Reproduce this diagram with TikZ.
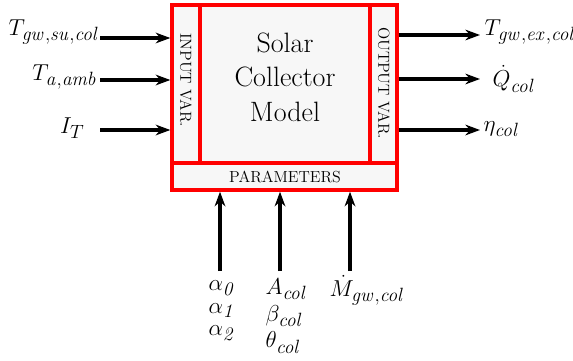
\documentclass[tikz,border=0pt]{standalone}
\usepackage{xcolor}
\usetikzlibrary{positioning,arrows.meta,fit}

\definecolor{panelred}{HTML}{FF0000}
\definecolor{panelfill}{HTML}{F7F7F7}
\newcommand{\vsub}[1]{\mathit{#1}}

\begin{document}
\begin{tikzpicture}[x=0.75pt,y=-0.75pt,>={Stealth[length=11pt,width=8pt]},
  panel/.style={draw=panelred,fill=panelfill,line width=2.5pt,inner sep=0pt},
  tag/.style={font=\fontsize{12}{14}\selectfont},
  var/.style={font=\fontsize{19}{20}\selectfont,inner sep=1pt},
  flow/.style={->,line width=2.4pt}]
  \useasboundingbox (0,0) rectangle (573,360);
  % block
  \node[panel,fit={(172,5) (200,163)}] (inp) {};
  \node[panel,fit={(200,5) (370,163)}] (model) {};
  \node[panel,fit={(370,5) (397,163)}] (outp) {};
  \node[panel,fit={(172,163) (397,190)}] (par) {};
  \node[tag,rotate=-90] at (186,80) {INPUT VAR.};
  \node[tag,rotate=-90] at (384,83) {OUTPUT VAR.};
  \node[tag] at (285,177) {PARAMETERS};
  \node[align=center,font=\fontsize{21}{26}\selectfont] (name) at (285,77) {Solar\\Collector\\Model};
  % inputs
  \coordinate (i1) at (100,38);
  \coordinate (i2) at (100,80);
  \coordinate (i3) at (100,130);
  \node[var,anchor=east] (tsu) at (101,32) {$T_{\vsub{gw{,}su{,}col}}$};
  \node[var,anchor=east] (tamb) at (99,77) {$T_{\vsub{a{,}amb}}$};
  \node[var,anchor=east] (irr) at (86,128) {$I_T$};
  \draw[flow] (i1) -- (i1 -| inp.west);
  \draw[flow] (i2) -- (i2 -| inp.west);
  \draw[flow] (i3) -- (i3 -| inp.west);
  % outputs
  \coordinate (o1) at (480,35);
  \coordinate (o2) at (480,79);
  \coordinate (o3) at (480,130);
  \node[var,anchor=west] (tex) at (483,32) {$T_{\vsub{gw{,}ex{,}col}}$};
  \node[var,anchor=west] (qcol) at (491,79) {$\dot{Q}_{\vsub{col}}$};
  \node[var,anchor=west] (eta) at (482,129) {$\eta_{\vsub{col}}$};
  \draw[flow] (o1 -| outp.east) -- (o1);
  \draw[flow] (o2 -| outp.east) -- (o2);
  \draw[flow] (o3 -| outp.east) -- (o3);
  % parameters
  \coordinate (p1) at (220,271);
  \coordinate (p2) at (280,271);
  \coordinate (p3) at (350,271);
  \node[var,anchor=north west,align=left,font=\fontsize{19}{17}\selectfont] (alph) at (207,279) {$\alpha_{\vsub{0}}$\\$\alpha_{\vsub{1}}$\\$\alpha_{\vsub{2}}$};
  \node[var,anchor=north west,align=left,font=\fontsize{19}{20}\selectfont] (geom) at (264,277) {$A_{\vsub{col}}$\\$\beta_{\vsub{col}}$\\$\theta_{\vsub{col}}$};
  \node[var,anchor=north west] (mflow) at (328,274) {$\dot{M}_{\vsub{gw{,}col}}$};
  \draw[flow] (p1) -- (p1 |- par.south);
  \draw[flow] (p2) -- (p2 |- par.south);
  \draw[flow] (p3) -- (p3 |- par.south);
\end{tikzpicture}
\end{document}
